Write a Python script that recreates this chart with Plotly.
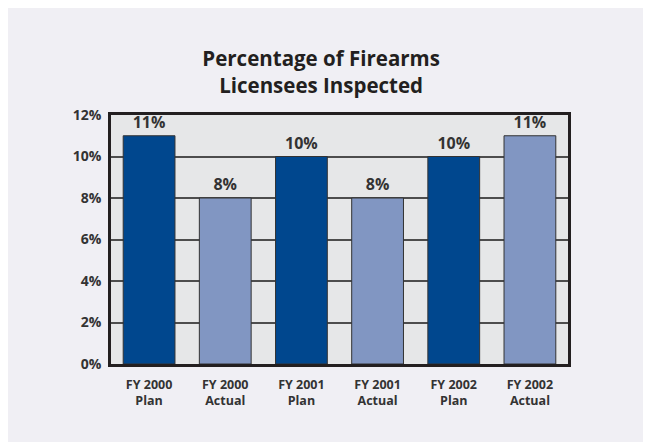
import plotly.graph_objects as go

categories = ["FY 2000<br>Plan", "FY 2000<br>Actual", "FY 2001<br>Plan",
              "FY 2001<br>Actual", "FY 2002<br>Plan", "FY 2002<br>Actual"]
values = [11, 8, 10, 8, 10, 11]
labels = ["11%", "8%", "10%", "8%", "10%", "11%"]
colors = ["#00478E", "#8196C2", "#00478E", "#8196C2", "#00478E", "#8196C2"]
y_ticks = [0, 2, 4, 6, 8, 10, 12]
y_ticklabels = ["0%", "2%", "4%", "6%", "8%", "10%", "12%"]

FONT = "Open Sans"

fig = go.Figure()
fig.add_trace(go.Bar(
    x=categories, y=values, text=labels, textposition="outside",
    marker=dict(color=colors, line=dict(color="#333333", width=1)),
    textfont=dict(family=FONT, size=16, color="#333333", weight="bold"),
    cliponaxis=False, width=0.68,
))

fig.update_layout(
    width=651, height=442,
    margin=dict(l=103, r=91, t=107, b=86),
    paper_bgcolor="#F0EFF4", plot_bgcolor="#E6E7E8",
    showlegend=False,
    title=dict(text="<b>Percentage of Firearms<br>Licensees Inspected</b>",
               x=0.481, xanchor="center", y=0.869, yanchor="top",
               font=dict(family=FONT, size=20.5, color="#231F20")),
    xaxis=dict(showgrid=False, tickfont=dict(family=FONT, size=12.5, color="#333333", weight="bold"),
               showline=True, linecolor="#231F20", linewidth=2.5, mirror=True,
               ticks="", ticklabelstandoff=7),
    yaxis=dict(range=[0, 12], tickvals=y_ticks, ticktext=y_ticklabels,
               showgrid=True, gridcolor="#4D4D4D", gridwidth=1.5,
               tickfont=dict(family=FONT, size=14, color="#333333", weight="bold"),
               showline=True, linecolor="#231F20", linewidth=2.5, mirror=True,
               ticks="", zeroline=False, ticklabelstandoff=4),
    bargap=0.32,
)
fig.write_html("out.html")
